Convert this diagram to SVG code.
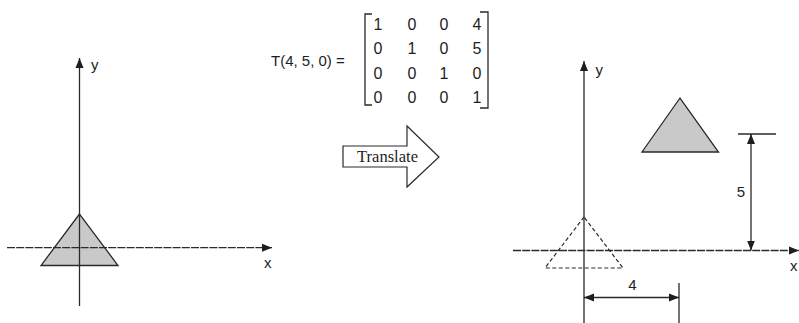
<svg xmlns="http://www.w3.org/2000/svg" width="799" height="323" viewBox="0 0 799 323">
  <style>
    .ln { stroke: #2a2a2a; stroke-width: 1.3; fill: none; }
    .ax { stroke: #2a2a2a; stroke-width: 1.3; fill: none; }
    .axd { stroke: #2a2a2a; stroke-width: 1.3; fill: none; stroke-dasharray: 8 1.2; }
    .tri { fill: #c9c9c9; stroke: #2a2a2a; stroke-width: 1.3; stroke-linejoin: miter; }
    .dtri { fill: none; stroke: #2a2a2a; stroke-width: 1.2; stroke-dasharray: 4 2.5; }
    .sans { font-family: "Liberation Sans", "DejaVu Sans", sans-serif; fill: #1e1e1e; }
    .mtx { font-size: 16px; text-anchor: middle; }
    .lbl { font-size: 15px; }
    .serif { font-family: "Liberation Serif", "Times New Roman", serif; fill: #1e1e1e; }
  </style>
  <defs>
    <marker id="ah" viewBox="0 0 10 10" refX="10" refY="5" markerWidth="10" markerHeight="10" markerUnits="userSpaceOnUse" orient="auto-start-reverse">
      <path d="M0,1 L10,5 L0,9 z" fill="#1e1e1e"/>
    </marker>
  </defs>
  <rect width="799" height="323" fill="#fff"/>

  <g id="left-triangle">
    <polygon class="tri" points="79.5,214 41,265.5 118,265.5"/>
  </g>

  <g id="connectors">
    <!-- left axes -->
    <line class="ax" x1="79.5" y1="306" x2="79.5" y2="58" marker-end="url(#ah)"/>
    <line class="axd" x1="7" y1="247.7" x2="272" y2="247.7" marker-end="url(#ah)"/>
    <!-- right axes -->
    <line class="ax" x1="584" y1="323" x2="584" y2="61" marker-end="url(#ah)"/>
    <line class="axd" x1="513" y1="250.5" x2="799" y2="250.5" marker-end="url(#ah)"/>
    <!-- dimension 5 -->
    <line class="ln" x1="738" y1="134" x2="776" y2="134"/>
    <line class="ln" x1="751" y1="134" x2="751" y2="250.5" marker-start="url(#ah)" marker-end="url(#ah)"/>
    <!-- dimension 4 -->
    <line class="ln" x1="679" y1="283" x2="679" y2="323"/>
    <line class="ln" x1="584" y1="297.5" x2="679" y2="297.5" marker-start="url(#ah)" marker-end="url(#ah)"/>
  </g>

  <g id="axis-labels" class="sans lbl">
    <text x="91" y="70">y</text>
    <text x="264" y="268">x</text>
    <text x="595.5" y="75">y</text>
    <text x="790" y="271">x</text>
  </g>

  <g id="matrix" class="sans">
    <text class="lbl" x="271" y="65.5">T(4, 5, 0) =</text>
    <path class="ln" d="M372,14 L365,14 L365,105 L372,105"/>
    <path class="ln" d="M480,12 L488,12 L488,108 L480,108"/>
    <g class="mtx">
      <text x="378" y="30">1</text><text x="412" y="30">0</text><text x="444" y="30">0</text><text x="477" y="30">4</text>
      <text x="378" y="54">0</text><text x="412" y="54">1</text><text x="444" y="54">0</text><text x="477" y="54">5</text>
      <text x="378" y="78.5">0</text><text x="412" y="78.5">0</text><text x="444" y="78.5">1</text><text x="477" y="78.5">0</text>
      <text x="378" y="103">0</text><text x="412" y="103">0</text><text x="444" y="103">0</text><text x="477" y="103">1</text>
    </g>
  </g>

  <g id="translate-arrow">
    <polygon points="343,146 407,146 407,126 439,157 407,187 407,167 343,167" fill="#fff" stroke="#2a2a2a" stroke-width="1.2"/>
    <text class="serif" x="387.5" y="162" font-size="17" text-anchor="middle" textLength="61" lengthAdjust="spacingAndGlyphs">Translate</text>
  </g>

  <g id="original-triangle">
    <polygon class="dtri" points="584,217 545,268 623,268"/>
  </g>

  <g id="translated-triangle">
    <polygon class="tri" points="680,98 642,152 718.5,152"/>
  </g>

  <g id="dimension-labels" class="sans lbl" text-anchor="middle">
    <text x="741" y="197">5</text>
    <text x="632.5" y="290">4</text>
  </g>
</svg>
